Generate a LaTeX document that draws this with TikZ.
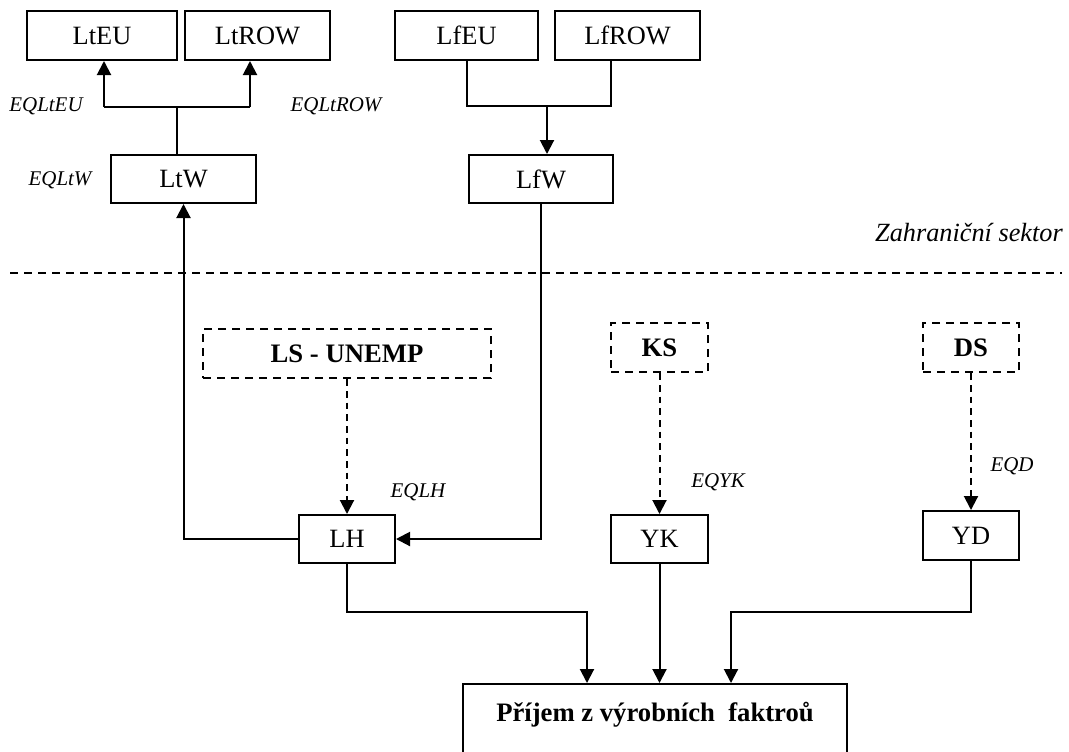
\documentclass[tikz,border=0pt]{standalone}
\usepackage{fontspec}
\setmainfont{Liberation Serif}
\usetikzlibrary{arrows.meta,calc}
\begin{document}
\begin{tikzpicture}[x=0.75pt,y=-0.75pt,
 box/.style={draw, line width=1.5pt, inner sep=0pt, font=\fontsize{19.8}{22}\selectfont, minimum height=36.75pt},
 dbox/.style={draw, line width=2.1pt, dash pattern=on 6pt off 4.5pt, inner sep=0pt, font=\fontsize{20}{22}\selectfont\bfseries, minimum height=36.75pt},
 lab/.style={font=\fontsize{15.7}{18}\selectfont\itshape, inner sep=0pt},
 arr/.style={line width=1.5pt, -{Triangle[length=10.5pt,width=10.5pt]}},
 darr/.style={line width=1.5pt, dash pattern=on 5pt off 3.75pt, -{Triangle[length=10.5pt,width=10.5pt]}},
 ln/.style={line width=1.5pt},
 sep/.style={line width=1.5pt, dash pattern=on 6pt off 4.5pt}]
\path[use as bounding box] (0,0) rectangle (1069,751);
\clip (0,0) rectangle (1069,751);
% top boxes
\node[box, minimum width=112.5pt] (LtEU) at (102,35.5) {LtEU};
\node[box, minimum width=108.75pt] (LtROW) at (257.5,35.5) {LtROW};
\node[box, minimum width=107.25pt] (LfEU) at (466.5,35.5) {LfEU};
\node[box, minimum width=108.75pt] (LfROW) at (627.5,35.5) {LfROW};
\node[box, minimum width=108.75pt, minimum height=36pt] (LtW) at (183.5,179) {LtW};
\node[box, minimum width=108pt, minimum height=36pt] (LfW) at (541,179) {LfW};
% labels
\node[lab] (lEQLtEU) at (46,106) {EQLtEU};
\node[lab] (lEQLtROW) at (336,106) {EQLtROW};
\node[lab] (lEQLtW) at (60,180) {EQLtW};
\node[lab] (lEQLH) at (418,492) {EQLH};
\node[lab] (lEQYK) at (718,482) {EQYK};
\node[lab] (lEQD) at (1012,466) {EQD};
\node[font=\fontsize{19.7}{22}\selectfont\itshape, inner sep=0pt, anchor=east] (zs) at (1063,232) {Zahraniční sektor};
% separator
\coordinate (sepL) at (10,273);
\coordinate (sepR) at (1062,273);
\draw[sep] (sepL) -- (sepR);
% lower boxes
\node[dbox, minimum width=216pt] (LS) at (347,353.5) {LS - UNEMP};
\node[dbox, minimum width=72.75pt] (KS) at (659.5,347.5) {KS};
\node[dbox, minimum width=72pt] (DS) at (971,347.5) {DS};
\node[box, minimum width=72pt, minimum height=36pt] (LH) at (347,539) {LH};
\node[box, minimum width=72.75pt, minimum height=36pt] (YK) at (659.5,539) {YK};
\node[box, minimum width=72pt, minimum height=36.75pt] (YD) at (971,535.5) {YD};
\node[draw, line width=1.5pt, anchor=north, minimum width=288pt, inner xsep=0pt, inner ysep=0pt,
      text height=27.75pt, text depth=60pt, font=\fontsize{20}{22}\selectfont\bfseries] (P) at (655,683) {Příjem z výrobních\ \ faktroů};
% Lt branch
\coordinate (tj) at (177,107);
\coordinate (tl) at (104,107);
\coordinate (tr) at (250,107);
\draw[ln] (tj |- LtW.north) -- (tj);
\draw[ln] (tl) -- (tr);
\draw[arr] (tl) -- (tl |- LtEU.south);
\draw[arr] (tr) -- (tr |- LtROW.south);
% Lf branch
\coordinate (fl) at (467,106);
\coordinate (fr) at (611,106);
\coordinate (fj) at (547,106);
\draw[ln] (fl |- LfEU.south) -- (fl) -- (fr) -- (fr |- LfROW.south);
\draw[arr] (fj) -- (fj |- LfW.north);
% LH links
\draw[arr] (LH.west) -| (LtW.south);
\draw[arr] (LfW.south) |- (LH.east);
\draw[darr] (LS.south) -- (LH.north);
\draw[darr] (KS.south) -- (YK.north);
\draw[darr] (DS.south) -- (YD.north);
% to bottom box
\coordinate (pl) at (587,612);
\coordinate (pr) at (731,612);
\draw[arr] (LH.south) |- (pl) -- (pl |- P.north);
\draw[arr] (YK.south) -- (YK.south |- P.north);
\draw[arr] (YD.south) |- (pr) -- (pr |- P.north);
\end{tikzpicture}
\end{document}
